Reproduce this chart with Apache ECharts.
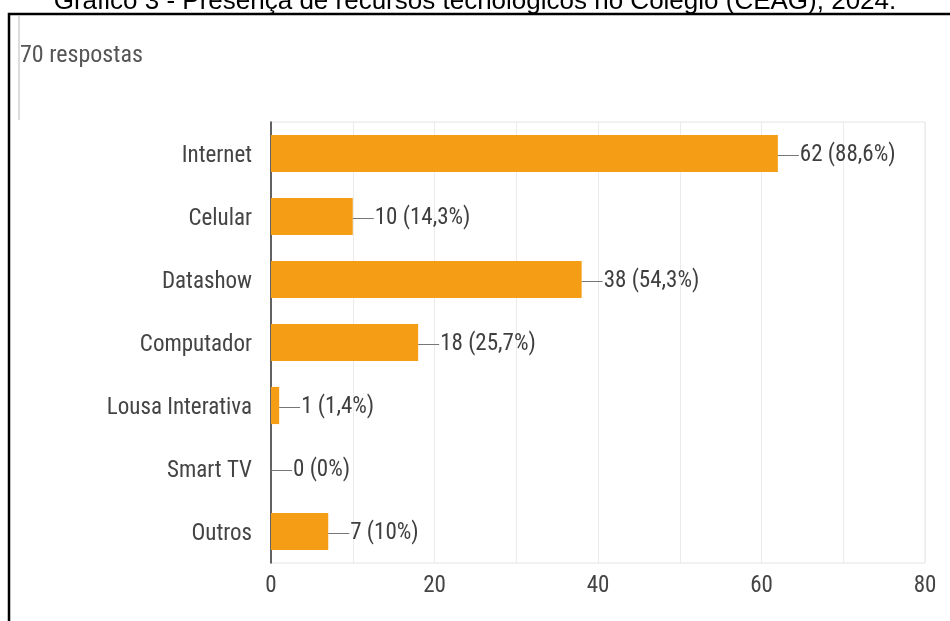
<!DOCTYPE html>
<html>
<head>
<meta charset="utf-8">
<script src="https://cdn.jsdelivr.net/npm/echarts@6/dist/echarts.min.js"></script>
<style>
html,body{margin:0;padding:0;background:#fff;}
#chart{width:950px;height:621px;}
</style>
</head>
<body>
<div id="chart"></div>
<script>
const categories = ['Internet', 'Celular', 'Datashow', 'Computador', 'Lousa Interativa', 'Smart TV', 'Outros'];
const counts = [62, 10, 38, 18, 1, 0, 7];
const percents = ['88,6%', '14,3%', '54,3%', '25,7%', '1,4%', '0%', '10%'];
const xTickLabels = ['0', '20', '40', '60', '80'];
const titleText = 'Gráfico 3 - Presença de recursos tecnológicos no Colégio (CEAG), 2024.';
const subtitleText = '70 respostas';

const FONT = "'Liberation Sans Narrow', 'Roboto Condensed', 'DejaVu Sans Condensed', sans-serif";
const chart = echarts.init(document.getElementById('chart'), null, {renderer: 'canvas'});

chart.setOption({
  animation: false,
  backgroundColor: '#ffffff',
  grid: {left: 271, right: 25, top: 122, bottom: 58, show: true, borderColor: '#e4e4e4', borderWidth: 1, backgroundColor: 'transparent'},
  graphic: [
    {type: 'text', left: 'center', y: 15, style: {text: titleText, font: "26px 'Liberation Sans', Arial, sans-serif", fill: '#000', verticalAlign: 'bottom'}},
    {type: 'rect', shape: {x: 9, y: 14, width: 960, height: 640}, style: {fill: 'none', stroke: '#000', lineWidth: 2.5}, z: 10},
    {type: 'line', shape: {x1: 19, y1: 16, x2: 19, y2: 120}, style: {stroke: '#dcdcdc', lineWidth: 2}},
    {type: 'text', x: 20, y: 56, style: {text: subtitleText, font: "24px " + FONT, fill: '#555', verticalAlign: 'middle'}}
  ],
  xAxis: {
    type: 'value', min: 0, max: 80, interval: 10,
    axisLine: {show: false}, axisTick: {show: false},
    splitLine: {show: true, lineStyle: {color: '#ebebeb', width: 1}},
    axisLabel: {
      color: '#444', fontFamily: FONT, fontSize: 23, margin: 12,
      formatter: function (v) { return xTickLabels.indexOf(String(v)) >= 0 ? String(v) : ''; }
    }
  },
  yAxis: {
    type: 'category', data: categories, inverse: true,
    axisLine: {show: true, lineStyle: {color: '#333', width: 1.5}},
    axisTick: {show: false},
    axisLabel: {
      margin: 19,
      formatter: function (v) { return '{c|' + v + '}'; },
      rich: {c: {color: '#444', fontFamily: FONT, fontSize: 23, padding: [6, 0, 0, 0]}}
    }
  },
  series: [{
    type: 'bar',
    data: counts,
    barCategoryGap: '41%',
    itemStyle: {color: '#F59D15'},
    label: {
      show: true, position: 'right', distance: 0, offset: [0, 2],
      formatter: function (p) { return '{ln|}{t|' + counts[p.dataIndex] + ' (' + percents[p.dataIndex] + ')}'; },
      rich: {
        ln: {width: 21, height: 1, backgroundColor: '#777'},
        t: {color: '#3f3f3f', fontFamily: FONT, fontSize: 23, padding: [0, 0, 0, 1]}
      }
    }
  }]
});
</script>
</body>
</html>
